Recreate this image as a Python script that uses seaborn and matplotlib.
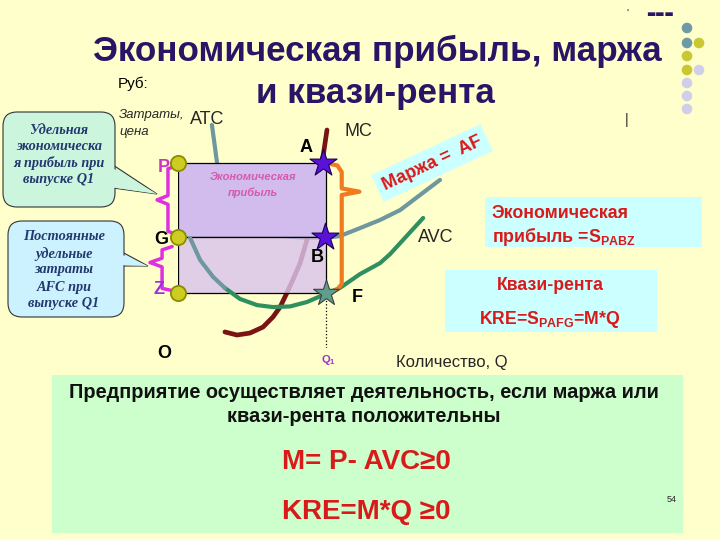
import matplotlib
matplotlib.use("Agg")
import matplotlib.pyplot as plt
import seaborn as sns
from matplotlib.patches import Rectangle, FancyBboxPatch, Polygon

# ---------------------------------------------------------------------------
# Values (Q and price units, origin at O)
# ---------------------------------------------------------------------------
mc_q = [1.59, 2.00, 2.44, 2.88, 3.22, 3.46, 3.69, 3.86, 4.14, 4.37, 4.58, 4.75, 4.88, 4.95, 5.05]
mc_p = [0.73, 0.59, 0.68, 0.95, 1.41, 1.86, 2.50, 3.00, 3.86, 4.91, 6.05, 7.18, 8.41, 9.00, 9.91]

atc_q = [1.15, 1.22, 1.32, 1.46, 1.69, 2.10, 2.71, 3.56, 4.31, 4.98, 5.49, 6.17, 6.85, 7.53, 8.20, 8.88]
atc_p = [10.14, 9.45, 8.45, 7.41, 6.50, 5.82, 5.36, 5.09, 5.00, 5.00, 5.09, 5.45, 5.82, 6.27, 6.95, 7.64]

avc_q = [0.41, 0.75, 1.19, 1.59, 2.10, 2.68, 3.22, 3.80, 4.37, 4.92, 5.49, 6.17, 6.85, 7.19, 7.69, 8.31]
avc_p = [5.00, 4.00, 3.23, 2.73, 2.23, 1.95, 1.86, 1.89, 2.09, 2.41, 2.73, 3.36, 3.86, 4.27, 5.00, 5.91]

q1 = 5.0
price_levels = {"P": 8.40, "G": 5.06, "Z": 2.51}
star_q = {"A": 4.93, "B": 4.98, "F": 5.0}

BG = "#FFFFCC"
RED = "#D91A1A"
NAVY = "#2A1466"

sns.set_theme(style="white")
plt.rcParams["font.family"] = ["Liberation Sans", "DejaVu Sans"]
plt.rcParams["mathtext.fontset"] = "custom"
plt.rcParams["mathtext.rm"] = "Liberation Sans"
plt.rcParams["mathtext.bf"] = "Liberation Sans:bold"

fig = plt.figure(figsize=(7.2, 5.4), dpi=100)
fig.patch.set_facecolor(BG)


def pixel_axes(z):
    a = fig.add_axes([0, 0, 1, 1], zorder=z)
    a.set_xlim(0, 720)
    a.set_ylim(540, 0)
    a.axis("off")
    a.patch.set_alpha(0)
    return a


# background axes in slide pixels for boxes and text
bg = pixel_axes(0)

# title
bg.text(377, 51, "Экономическая прибыль, маржа", ha="center", va="center",
        fontsize=25.2, fontweight="bold", color=NAVY)
bg.text(375, 94, "и квази-рента", ha="center", va="center",
        fontsize=25.2, fontweight="bold", color=NAVY)
bg.text(118, 84, "Руб:", ha="left", va="center", fontsize=11, color="black")
bg.text(119, 115, "Затраты,", ha="left", va="center", fontsize=9.5, style="italic")
bg.text(119, 132, "цена", ha="left", va="center", fontsize=9.5, style="italic")

# decoration top right
for x, y, c in [(687, 28, "#6E9AA8"), (687, 43, "#6E9AA8"), (699, 43, "#C8C832"),
                (687, 56, "#C8C832"), (687, 70, "#C8C832"), (699, 70, "#CFCFEA"),
                (687, 83, "#CFCFEA"), (687, 96, "#CFCFEA"), (687, 109, "#CFCFEA")]:
    bg.add_patch(plt.Circle((x, y), 4.6, color=c))
bg.text(627, 120, "|", ha="center", va="center", fontsize=10)
bg.text(627, 14, "'", ha="center", va="center", fontsize=8)
bg.text(660, 14, "▬▬▬", ha="center", va="center", fontsize=7, color=NAVY,
        family="DejaVu Sans")


def callout(ax, x0, y0, w, h, tip, base, fc):
    wedge = [(base[0][0], base[0][1]), tip, (base[1][0], base[1][1])]
    ax.add_patch(Polygon(wedge, closed=True, fc=fc, ec="#333333", lw=0.8, zorder=1))
    ax.add_patch(FancyBboxPatch((x0, y0), w, h, boxstyle="round,pad=0,rounding_size=14",
                                fc=fc, ec="#333333", lw=0.8, zorder=2))
    inner = [(base[0][0] - 4, base[0][1] + 1), tip, (base[1][0] - 4, base[1][1] - 1)]
    ax.add_patch(Polygon(inner, closed=True, fc=fc, ec="none", zorder=3))


callout(bg, 3, 112, 112, 95, (157, 194), [(113, 165), (113, 188)], "#CCF5DD")
callout(bg, 8, 221, 116, 96, (148, 266), [(122, 252), (122, 266)], "#CCF2FF")

serif = dict(family="Liberation Serif", style="italic", fontweight="bold",
             color="#22386E", fontsize=10.3, ha="center", va="center", zorder=4)
for y, s in zip([130, 147, 163, 180], ["Удельная", "экономическа", "я прибыль при", "выпуске Q1"]):
    bg.text(59, y, s, **serif)
for y, s in zip([237, 254, 270, 287, 303], ["Постоянные", "удельные", "затраты", "AFC при", "выпуске Q1"]):
    bg.text(64, y, s, **serif)

# right-hand boxes
bg.add_patch(Rectangle((485, 197), 217, 50, fc="#CCFFFF", ec="none"))
bg.text(492, 213, "Экономическая", ha="left", va="center", fontsize=12.8,
        fontweight="bold", color=RED)
bg.text(492, 236, r"прибыль =S$_\mathbf{PABZ}$", ha="left", va="center", fontsize=12.8,
        fontweight="bold", color=RED)
bg.add_patch(Rectangle((445, 270), 212, 62, fc="#CCFFFF", ec="none"))
bg.text(550, 286, "Квази-рента", ha="center", va="center", fontsize=12.7,
        fontweight="bold", color=RED)
bg.text(550, 320, r"KRE=S$_\mathbf{PAFG}$=M*Q", ha="center", va="center", fontsize=12.7,
        fontweight="bold", color=RED)
bg.text(432, 163, "Маржа =  AF", ha="center", va="center", rotation=25, fontsize=13,
        fontweight="bold", color=RED,
        bbox=dict(boxstyle="square,pad=0.35", fc="#CCFFFF", ec="none"))

# bottom green box
bg.add_patch(Rectangle((52, 375), 631, 158, fc="#CCFFCC", ec="none"))
bg.text(364, 393, "Предприятие осуществляет деятельность, если маржа или",
        ha="center", va="center", fontsize=14.4, fontweight="bold", color="#111111")
bg.text(364, 417, "квази-рента положительны", ha="center", va="center",
        fontsize=14.4, fontweight="bold", color="#111111")
bg.text(366, 462, "M= P- AVC≥0", ha="center", va="center", fontsize=20,
        fontweight="bold", color=RED)
bg.text(366, 512, "KRE=M*Q ≥0", ha="center", va="center", fontsize=20,
        fontweight="bold", color=RED)
bg.text(672, 500, "54", ha="center", va="center", fontsize=6.5)

# ---------------------------------------------------------------------------
# graph axes: origin at O
# ---------------------------------------------------------------------------
ax = fig.add_axes([178 / 720, 192 / 540, 295 / 720, 220 / 540], zorder=1)
ax.set_xlim(0, 10)
ax.set_ylim(0, 10)
ax.axis("off")
ax.patch.set_alpha(0)

P, G, Z = price_levels["P"], price_levels["G"], price_levels["Z"]

sns.lineplot(x=atc_q, y=atc_p, sort=False, color="#6E979E", lw=3, ax=ax,
             zorder=2, clip_on=False)
sns.lineplot(x=mc_q, y=mc_p, sort=False, color="#7A1414", lw=3.4, ax=ax,
             zorder=2, clip_on=False)

ax.add_patch(Rectangle((0, G), q1, P - G, fc="#D2BCEE", ec="black", lw=0.9, zorder=3))
ax.add_patch(Rectangle((0, Z), q1, G - Z, fc="#D9C4EC", alpha=0.82, ec="none", zorder=3))
ax.add_patch(Rectangle((0, Z), q1, G - Z, fc="none", ec="black", lw=0.9, zorder=3.5))

sns.lineplot(x=avc_q[3:], y=avc_p[3:], sort=False, color="#2F8F5F", lw=3, ax=ax, zorder=4)
sns.lineplot(x=avc_q[:4], y=avc_p[:4], sort=False, color="#6E979E", lw=3, ax=ax, zorder=4)

ax.plot([q1, q1], [0, Z], ls=":", color="black", lw=0.9, zorder=3)

# orange brace A..F
bx, tx = q1 + 0.55, q1 + 1.15
mid = (P + Z) / 2 + 1.65
ax.plot([star_q["A"] + 0.1, bx - 0.15, bx, bx, tx, bx, bx, bx - 0.15, q1 + 0.1],
        [P, P - 0.1, P - 0.4, mid + 0.15, mid, mid - 0.15, Z + 0.4, Z + 0.15, Z],
        color="#F07A1E", lw=3, zorder=5, solid_joinstyle="round", clip_on=False)

# magenta braces
ax.plot([0, -0.34, -0.34, -0.71, -0.34, -0.34, 0],
        [P - 0.1, P - 0.25, (P + G) / 2 + 0.2, (P + G) / 2, (P + G) / 2 - 0.2, G + 0.25, G + 0.05],
        color="#E02EE0", lw=2.5, zorder=5, clip_on=False)
ax.plot([-0.2, -0.54, -0.54, -0.95, -0.54, -0.54, -0.2],
        [G - 0.45, G - 0.6, (G + Z) / 2 + 0.3, (G + Z) / 2 + 0.1, (G + Z) / 2 - 0.1, Z + 0.2, Z + 0.1],
        color="#E02EE0", lw=2.5, zorder=5, clip_on=False)

sns.scatterplot(x=[0, 0, 0], y=[P, G, Z], s=120, color="#CCCC22", edgecolor="#8C8C00",
                linewidth=1.3, ax=ax, zorder=7, clip_on=False)
sns.scatterplot(x=[star_q["A"], star_q["B"]], y=[P, G], marker="*", s=420, color="#5B12D8",
                edgecolor="#1A0050", linewidth=0.8, ax=ax, zorder=7)
sns.scatterplot(x=[star_q["F"]], y=[Z], marker="*", s=380, color="#5E9E8C",
                edgecolor="#404040", linewidth=0.8, ax=ax, zorder=7)

# axes arrows
arrow = dict(arrowstyle="-|>", color="black", lw=1, mutation_scale=10, shrinkA=0, shrinkB=0)
ax.annotate("", xy=(0, 10.15), xytext=(0, 0), arrowprops=arrow, zorder=6)
ax.annotate("", xy=(10.05, 0), xytext=(0, 0), arrowprops=arrow, zorder=6)

ax.text(2.55, 7.75, "Экономическая", ha="center", va="center", fontsize=8,
        style="italic", fontweight="bold", color="#D45AB0", zorder=6)
ax.text(2.55, 7.05, "прибыль", ha="center", va="center", fontsize=8,
        style="italic", fontweight="bold", color="#D45AB0", zorder=6)

# point and curve labels on top (slide pixels)
top = pixel_axes(2)
lab = dict(ha="center", va="center", fontweight="bold", fontsize=13)
top.text(164, 167, "P", color="#CC33CC", **lab)
top.text(161, 240, "G", color="black", **lab)
top.text(159, 290, "Z", color="#9933DD", **lab)
top.text(164, 353, "O", color="black", **lab)
top.text(306, 148, "A", color="black", **lab)
top.text(317, 258, "B", color="black", **lab)
top.text(357, 297, "F", color="black", **lab)
top.text(328, 360, r"Q$_\mathbf{1}$", ha="center", va="center", fontsize=8,
         fontweight="bold", color="#9933CC")
top.text(190, 120, "ATC", ha="left", va="center", fontsize=13)
top.text(345, 131, "MC", ha="left", va="center", fontsize=13)
top.text(418, 238, "AVC", ha="left", va="center", fontsize=13)
top.text(396, 362, "Количество, Q", ha="left", va="center", fontsize=12)

fig.savefig("out.png", dpi=100, facecolor=BG)
